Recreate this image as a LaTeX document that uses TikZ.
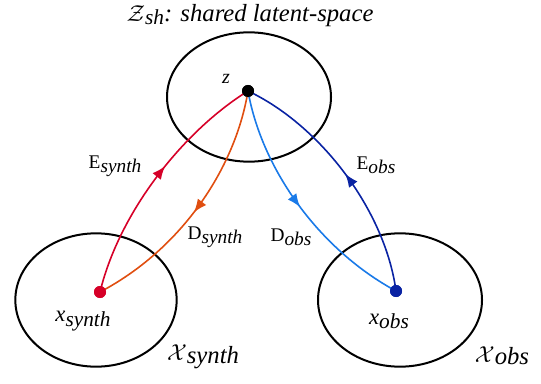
\documentclass[tikz,border=0pt]{standalone}
\usepackage{fontspec}
\setmainfont{Liberation Serif}
\usetikzlibrary{shapes.geometric,decorations.markings,arrows.meta}
\definecolor{cred}{RGB}{214,0,40}
\definecolor{corange}{RGB}{224,78,16}
\definecolor{clblue}{RGB}{26,122,232}
\definecolor{cdblue}{RGB}{10,35,163}
\newcommand{\fs}[1]{\fontsize{#1}{#1}\selectfont}
\newcommand{\sbx}[2]{\raisebox{-0.4ex}{\fs{#1}\itshape #2}}
\tikzset{
  space/.style={draw=black,line width=1.5pt,ellipse,inner sep=0pt},
  dot/.style={circle,fill=#1,inner sep=0pt,minimum size=9pt},
  flow/.style 2 args={line width=1.2pt,draw=#1,postaction={decorate},
    decoration={markings,mark=at position #2 with {\arrow[#1]{Latex[length=10pt,width=8pt]}}}},
  lbl/.style={inner sep=0pt}
}
\begin{document}
\begin{tikzpicture}[x=0.75pt,y=-0.75pt]
\useasboundingbox (0,0) rectangle (541,384);
\node[space,minimum width=123pt,minimum height=97pt] (Z) at (249,97) {};
\node[space,minimum width=121pt,minimum height=100pt] (XS) at (96,300) {};
\node[space,minimum width=123pt,minimum height=100pt] (XO) at (400,300) {};
\node[dot=black] (z) at (248,91) {};
\node[dot=cred] (xs) at (100,292) {};
\node[dot=cdblue] (xo) at (396,291) {};
\draw[flow={cred}{0.56}] (xs.center) .. controls (120,210) and (185,130) .. (z.center);
\draw[flow={corange}{0.52}] (z.center) .. controls (235,170) and (180,250) .. (xs.center);
\draw[flow={clblue}{0.5}] (z.center) .. controls (262,170) and (320,250) .. (xo.center);
\draw[flow={cdblue}{0.5}] (xo.center) .. controls (385,210) and (320,125) .. (z.center);
\node[dot=black] at (z) {};
\node[dot=cred] at (xs) {};
\node[dot=cdblue] at (xo) {};
\node[lbl] (tz) at (250,16) {{\fs{17}$\mathcal{Z}$}\sbx{16}{sh}{\fs{18.5}\itshape: shared latent-space}};
\node[lbl] (lz) at (226,79) {\fs{15}\itshape z};
\node[lbl] (les) at (115,166) {\fs{14.5}E\sbx{14.5}{synth}};
\node[lbl] (lds) at (215,237) {\fs{14.5}D\sbx{14.5}{synth}};
\node[lbl] (ldo) at (291,237) {\fs{14.5}D\sbx{14.5}{obs}};
\node[lbl] (leo) at (376,165) {\fs{14.5}E\sbx{14.5}{obs}};
\node[lbl] (lxs) at (83,321) {\fs{17}\itshape x\sbx{16}{synth}};
\node[lbl] (lxo) at (389,321) {\fs{17}\itshape x\sbx{16}{obs}};
\node[lbl] (lXS) at (203,357) {{\fs{17}$\mathcal{X}$}\sbx{18.5}{synth}};
\node[lbl] (lXO) at (502,356) {{\fs{17}$\mathcal{X}$}\sbx{18.5}{obs}};
\end{tikzpicture}
\end{document}
